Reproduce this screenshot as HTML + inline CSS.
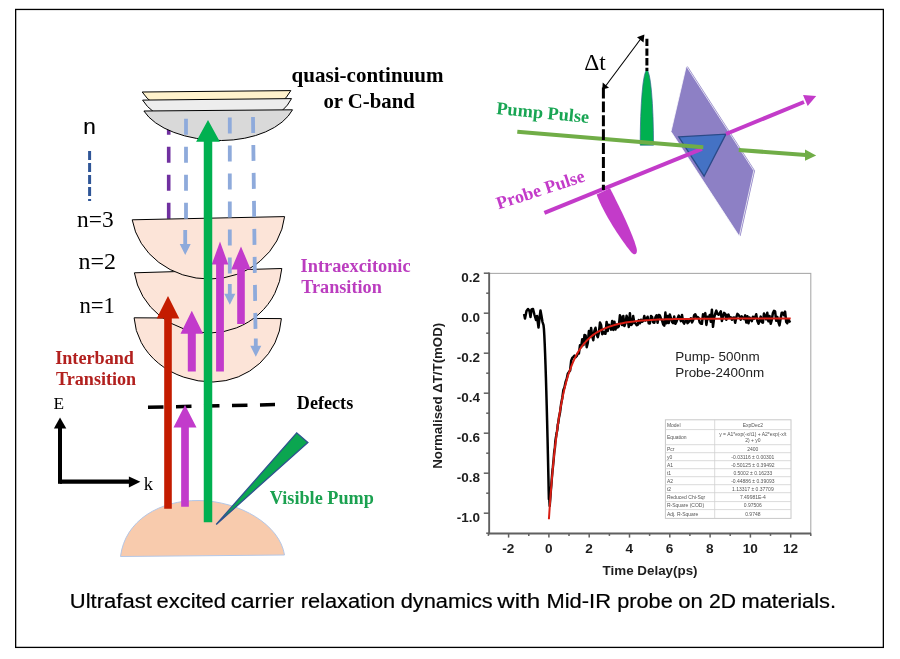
<!DOCTYPE html>
<html><head><meta charset="utf-8"><style>
html,body{margin:0;padding:0;background:#fff;width:900px;height:659px;overflow:hidden}
svg{display:block;will-change:transform}
</style></head><body>
<svg width="900" height="659" viewBox="0 0 900 659">
<rect width="900" height="659" fill="#fff"/>
<rect x="15.65" y="9.45" width="867.7" height="637.95" fill="none" stroke="#000" stroke-width="1.3"/>
<path d="M142.2,92 L290.8,90.6 A75,43.6 0 0 1 220.5,121.7 A82,43.6 0 0 1 142.2,92 Z" fill="#FFF2CC" stroke="#000" stroke-width="1"/>
<path d="M142.6,100.1 L291.5,98.6 A75,43.6 0 0 1 221,130.5 A82,43.6 0 0 1 142.6,100.1 Z" fill="#EDEDED" stroke="#000" stroke-width="1"/>
<line x1="89.6" y1="151" x2="89.6" y2="201" stroke="#2F5597" stroke-width="3" stroke-dasharray="9 3"/>
<line x1="168.7" y1="118.7" x2="168.7" y2="219" stroke="#7030A0" stroke-width="3.6" stroke-dasharray="16 12"/>
<path d="M143.9,111 L292.5,109.8 A75,43.6 0 0 1 221.5,140.5 A82,43.6 0 0 1 143.9,111 Z" fill="#D9D9D9" stroke="#000" stroke-width="1"/>
<path d="M134.1,317.8 L281.4,318.6 A70,68 0 0 1 213,382 A79,68 0 0 1 134.1,317.8 Z" fill="#FCE4D8" stroke="#000" stroke-width="1"/>
<path d="M134.4,272.8 L281.8,268.5 A73,70 0 0 1 210,333 A76,70 0 0 1 134.4,272.8 Z" fill="#FCE4D8" stroke="#000" stroke-width="1"/>
<path d="M132.2,219.8 L284.6,216.6 A75,70 0 0 1 210,279 A78,70 0 0 1 132.2,219.8 Z" fill="#FCE4D8" stroke="#000" stroke-width="1"/>
<line x1="186" y1="118.7" x2="186" y2="226" stroke="#8EAADB" stroke-width="3.8" stroke-dasharray="16 12"/>
<line x1="229.8" y1="117.6" x2="229.8" y2="281" stroke="#8EAADB" stroke-width="3.8" stroke-dasharray="16 12"/>
<line x1="253" y1="116.9" x2="255.5" y2="332" stroke="#8EAADB" stroke-width="3.8" stroke-dasharray="16 12"/>
<path d="M183.29999999999998,230 L183.29999999999998,243.9 L179.7,243.9 L185.2,254.9 L190.7,243.9 L187.1,243.9 L187.1,230 Z" fill="#8EAADB"/>
<path d="M227.9,284 L227.9,293.7 L224.3,293.7 L229.8,304.7 L235.3,293.7 L231.70000000000002,293.7 L231.70000000000002,284 Z" fill="#8EAADB"/>
<path d="M253.9,338.6 L253.9,345.8 L250.3,345.8 L255.8,356.8 L261.3,345.8 L257.7,345.8 L257.7,338.6 Z" fill="#8EAADB"/>
<path d="M120.5,556.5 C125,520 160,500 199,500.5 C240,501 280,525 284.5,555 Z" fill="#F8CBAD" stroke="#B4C7E7" stroke-width="1"/>
<line x1="148" y1="407.2" x2="275" y2="404.6" stroke="#000" stroke-width="3.5" stroke-dasharray="15.5 12.5"/>
<path d="M164.2,508.7 L164.2,318.4 L156.7,318.4 L168,296 L179.3,318.4 L171.8,318.4 L171.8,508.7 Z" fill="#C41C00"/>
<path d="M187.8,371.6 L187.8,333.8 L180.5,333.8 L191.8,310.7 L203.10000000000002,333.8 L195.8,333.8 L195.8,371.6 Z" fill="#C23BCB"/>
<path d="M216.1,371.6 L216.1,264.6 L211.7,264.6 L220,241.6 L228.3,264.6 L223.9,264.6 L223.9,371.6 Z" fill="#C23BCB"/>
<path d="M237.2,324.1 L237.2,269.5 L231.3,269.5 L241,246.4 L250.7,269.5 L244.8,269.5 L244.8,324.1 Z" fill="#C23BCB"/>
<path d="M181.15,506.8 L181.15,427.6 L173.5,427.6 L185,405 L196.5,427.6 L188.85,427.6 L188.85,506.8 Z" fill="#C23BCB"/>
<path d="M203.75,522.2 L203.75,141.7 L196.1,141.7 L208,120 L219.9,141.7 L212.25,141.7 L212.25,522.2 Z" fill="#00B050"/>
<path d="M216.2,524.5 L296.7,432.8 L307.9,442.6 Z" fill="#0BA650" stroke="#2F528F" stroke-width="1.3" stroke-linejoin="miter"/>
<path d="M60,481.7 L130,481.7" stroke="#000" stroke-width="4.2"/>
<path d="M60,483.8 L60,427" stroke="#000" stroke-width="4"/>
<path d="M53.9,428.4 L60,417.4 L66.3,428.4 Z" fill="#000"/>
<path d="M128.9,476.4 L140.4,481.7 L128.9,487.5 Z" fill="#000"/>
<text x="291.6" y="81.6" style='font-family:"Liberation Serif",serif;font-weight:bold;font-size:21px;fill:#000' textLength="152" lengthAdjust="spacingAndGlyphs" >quasi-continuum</text>
<text x="323.4" y="108" style='font-family:"Liberation Serif",serif;font-weight:bold;font-size:21px;fill:#000' textLength="91.4" lengthAdjust="spacingAndGlyphs" >or C-band</text>
<text x="83.2" y="134" style='font-family:"Liberation Sans",sans-serif;font-size:22.5px;fill:#000' stroke="#000" stroke-width="0.2">n</text>
<text x="77" y="227" style='font-family:"Liberation Serif",serif;font-size:24px;fill:#000' textLength="36.6" lengthAdjust="spacingAndGlyphs" >n=3</text>
<text x="78.6" y="269" style='font-family:"Liberation Serif",serif;font-size:24px;fill:#000' textLength="37.4" lengthAdjust="spacingAndGlyphs" >n=2</text>
<text x="79.4" y="313" style='font-family:"Liberation Serif",serif;font-size:24px;fill:#000' textLength="35.6" lengthAdjust="spacingAndGlyphs" >n=1</text>
<text x="300.6" y="271.8" style='font-family:"Liberation Serif",serif;font-weight:bold;font-size:18px;fill:#BB3DBF' textLength="110" lengthAdjust="spacingAndGlyphs" >Intraexcitonic</text>
<text x="301.2" y="293.4" style='font-family:"Liberation Serif",serif;font-weight:bold;font-size:18px;fill:#BB3DBF' textLength="80.6" lengthAdjust="spacingAndGlyphs" >Transition</text>
<text x="55.2" y="363.6" style='font-family:"Liberation Serif",serif;font-weight:bold;font-size:18px;fill:#B2201E' textLength="78.8" lengthAdjust="spacingAndGlyphs" >Interband</text>
<text x="56" y="385.3" style='font-family:"Liberation Serif",serif;font-weight:bold;font-size:18px;fill:#B2201E' textLength="80.2" lengthAdjust="spacingAndGlyphs" >Transition</text>
<text x="296.8" y="408.7" style='font-family:"Liberation Serif",serif;font-weight:bold;font-size:18px;fill:#000' textLength="56.4" lengthAdjust="spacingAndGlyphs" >Defects</text>
<text x="269.8" y="504.3" style='font-family:"Liberation Serif",serif;font-weight:bold;font-size:18px;fill:#1BA150' textLength="104" lengthAdjust="spacingAndGlyphs" >Visible Pump</text>
<text x="53.6" y="408.8" style='font-family:"Liberation Serif",serif;font-size:17.5px;fill:#000' textLength="10.6" lengthAdjust="spacingAndGlyphs" >E</text>
<text x="143.8" y="489.8" style='font-family:"Liberation Serif",serif;font-size:18px;fill:#000' textLength="9.2" lengthAdjust="spacingAndGlyphs" >k</text>
<text x="69.8" y="608.4" style='font-family:"Liberation Sans",sans-serif;font-size:19.5px;fill:#000' textLength="82.0" lengthAdjust="spacingAndGlyphs" stroke="#000" stroke-width="0.2">Ultrafast</text>
<text x="156.5" y="608.4" style='font-family:"Liberation Sans",sans-serif;font-size:19.5px;fill:#000' textLength="69.5" lengthAdjust="spacingAndGlyphs" stroke="#000" stroke-width="0.2">excited</text>
<text x="230.7" y="608.4" style='font-family:"Liberation Sans",sans-serif;font-size:19.5px;fill:#000' textLength="63.6" lengthAdjust="spacingAndGlyphs" stroke="#000" stroke-width="0.2">carrier</text>
<text x="300.7" y="608.4" style='font-family:"Liberation Sans",sans-serif;font-size:19.5px;fill:#000' textLength="94.5" lengthAdjust="spacingAndGlyphs" stroke="#000" stroke-width="0.2">relaxation</text>
<text x="400.7" y="608.4" style='font-family:"Liberation Sans",sans-serif;font-size:19.5px;fill:#000' textLength="92.0" lengthAdjust="spacingAndGlyphs" stroke="#000" stroke-width="0.2">dynamics</text>
<text x="497.3" y="608.4" style='font-family:"Liberation Sans",sans-serif;font-size:19.5px;fill:#000' textLength="42.9" lengthAdjust="spacingAndGlyphs" stroke="#000" stroke-width="0.2">with</text>
<text x="546.5" y="608.4" style='font-family:"Liberation Sans",sans-serif;font-size:19.5px;fill:#000' textLength="64.5" lengthAdjust="spacingAndGlyphs" stroke="#000" stroke-width="0.2">Mid-IR</text>
<text x="617.3" y="608.4" style='font-family:"Liberation Sans",sans-serif;font-size:19.5px;fill:#000' textLength="55.4" lengthAdjust="spacingAndGlyphs" stroke="#000" stroke-width="0.2">probe</text>
<text x="678.2" y="608.4" style='font-family:"Liberation Sans",sans-serif;font-size:19.5px;fill:#000' textLength="24.5" lengthAdjust="spacingAndGlyphs" stroke="#000" stroke-width="0.2">on</text>
<text x="709.0" y="608.4" style='font-family:"Liberation Sans",sans-serif;font-size:19.5px;fill:#000' textLength="27.0" lengthAdjust="spacingAndGlyphs" stroke="#000" stroke-width="0.2">2D</text>
<text x="741.5" y="608.4" style='font-family:"Liberation Sans",sans-serif;font-size:19.5px;fill:#000' textLength="94.5" lengthAdjust="spacingAndGlyphs" stroke="#000" stroke-width="0.2">materials.</text>
<path d="M687.5,66 L755,170.7 L740.5,236.2 L672.5,131.6 Z" fill="#8D80C5"/>
<path d="M686.3,66 L753.8,170.7 L739.3,236.2 L671,131.6 Z" fill="#8D80C5" stroke="#fff" stroke-width="0.75"/>
<path d="M678.7,136.9 L725.9,134.1 L704.1,176.2 Z" fill="#4472C4" stroke="#2A4A88" stroke-width="1.3"/>
<path d="M640.2,145.2 A6.65,75 0 0 1 653.5,145.2 Z" fill="#00B050" stroke="#2F6A8F" stroke-width="0.7"/>
<path d="M596.6,194.4 L610,188.3 C620,208 632,232 636.5,248 C638,254 635,256.5 631,252 C620,238 604,214 596.6,194.4 Z" fill="#C33BC9"/>
<line x1="544.4" y1="212.9" x2="701.9" y2="148.9" stroke="#C33BC9" stroke-width="4"/>
<line x1="726" y1="134" x2="804" y2="102" stroke="#C33BC9" stroke-width="4"/>
<path d="M803,95 L816.2,96.1 L807.7,106 Z" fill="#C33BC9"/>
<line x1="517.3" y1="131.8" x2="703.3" y2="147.3" stroke="#70AD47" stroke-width="4"/>
<line x1="738.8" y1="150" x2="806" y2="155" stroke="#70AD47" stroke-width="4"/>
<path d="M805,149.4 L816.2,155.6 L805,160.7 Z" fill="#70AD47"/>
<line x1="646.9" y1="38.7" x2="646.9" y2="71" stroke="#000" stroke-width="3" stroke-dasharray="7.4 2.3"/>
<line x1="603.4" y1="87.5" x2="603.4" y2="190" stroke="#000" stroke-width="3" stroke-dasharray="10.9 3"/>
<line x1="604.5" y1="87.5" x2="642.5" y2="36.5" stroke="#000" stroke-width="1.1"/>
<path d="M602.3,89.4 L602.7,82.6 L609,87.8 Z" fill="#000"/>
<path d="M644.4,34.5 L637,37.2 L643.5,42.5 Z" fill="#000"/>
<text x="584.3" y="69.7" style='font-family:"Liberation Serif",serif;font-size:24px;fill:#000' textLength="21.6" lengthAdjust="spacingAndGlyphs" >&#916;t</text>
<text x="496" y="114" style='font-family:"Liberation Serif",serif;font-weight:bold;font-size:18px;fill:#18A553' textLength="93" lengthAdjust="spacingAndGlyphs" transform="rotate(5.5 496 114)">Pump Pulse</text>
<text x="498.5" y="209.5" style='font-family:"Liberation Serif",serif;font-weight:bold;font-size:18px;fill:#C33BC9' textLength="92" lengthAdjust="spacingAndGlyphs" transform="rotate(-18 498.5 209.5)">Probe Pulse</text>
<rect x="489" y="273.4" width="321.8" height="260.1" fill="#fff" stroke="#ABABAB" stroke-width="1.1"/>
<line x1="489.2" y1="272.5" x2="489.2" y2="534.2" stroke="#606060" stroke-width="1.8"/>
<line x1="488.3" y1="533.5" x2="811" y2="533.5" stroke="#606060" stroke-width="1.8"/>
<line x1="486.2" y1="533.2" x2="489" y2="533.2" stroke="#606060" stroke-width="1.5"/>
<line x1="483.8" y1="513.2" x2="489" y2="513.2" stroke="#606060" stroke-width="1.5"/>
<text x="480.1" y="522.2" style='font-family:"Liberation Sans",sans-serif;font-weight:bold;font-size:13.5px;fill:#1E1E1E' text-anchor="end">-1.0</text>
<line x1="486.2" y1="493.2" x2="489" y2="493.2" stroke="#606060" stroke-width="1.5"/>
<line x1="483.8" y1="473.2" x2="489" y2="473.2" stroke="#606060" stroke-width="1.5"/>
<text x="480.1" y="482.2" style='font-family:"Liberation Sans",sans-serif;font-weight:bold;font-size:13.5px;fill:#1E1E1E' text-anchor="end">-0.8</text>
<line x1="486.2" y1="453.2" x2="489" y2="453.2" stroke="#606060" stroke-width="1.5"/>
<line x1="483.8" y1="433.2" x2="489" y2="433.2" stroke="#606060" stroke-width="1.5"/>
<text x="480.1" y="442.2" style='font-family:"Liberation Sans",sans-serif;font-weight:bold;font-size:13.5px;fill:#1E1E1E' text-anchor="end">-0.6</text>
<line x1="486.2" y1="413.2" x2="489" y2="413.2" stroke="#606060" stroke-width="1.5"/>
<line x1="483.8" y1="393.2" x2="489" y2="393.2" stroke="#606060" stroke-width="1.5"/>
<text x="480.1" y="402.2" style='font-family:"Liberation Sans",sans-serif;font-weight:bold;font-size:13.5px;fill:#1E1E1E' text-anchor="end">-0.4</text>
<line x1="486.2" y1="373.2" x2="489" y2="373.2" stroke="#606060" stroke-width="1.5"/>
<line x1="483.8" y1="353.2" x2="489" y2="353.2" stroke="#606060" stroke-width="1.5"/>
<text x="480.1" y="362.2" style='font-family:"Liberation Sans",sans-serif;font-weight:bold;font-size:13.5px;fill:#1E1E1E' text-anchor="end">-0.2</text>
<line x1="486.2" y1="333.2" x2="489" y2="333.2" stroke="#606060" stroke-width="1.5"/>
<line x1="483.8" y1="313.2" x2="489" y2="313.2" stroke="#606060" stroke-width="1.5"/>
<text x="480.1" y="322.2" style='font-family:"Liberation Sans",sans-serif;font-weight:bold;font-size:13.5px;fill:#1E1E1E' text-anchor="end">0.0</text>
<line x1="486.2" y1="293.2" x2="489" y2="293.2" stroke="#606060" stroke-width="1.5"/>
<line x1="483.8" y1="273.2" x2="489" y2="273.2" stroke="#606060" stroke-width="1.5"/>
<text x="480.1" y="282.2" style='font-family:"Liberation Sans",sans-serif;font-weight:bold;font-size:13.5px;fill:#1E1E1E' text-anchor="end">0.2</text>
<line x1="488.4" y1="533.5" x2="488.4" y2="535.9" stroke="#606060" stroke-width="1.5"/>
<line x1="508.6" y1="533.5" x2="508.6" y2="537.6" stroke="#606060" stroke-width="1.5"/>
<text x="508.4" y="552.9" style='font-family:"Liberation Sans",sans-serif;font-weight:bold;font-size:13.6px;fill:#1E1E1E' text-anchor="middle">-2</text>
<line x1="528.8" y1="533.5" x2="528.8" y2="535.9" stroke="#606060" stroke-width="1.5"/>
<line x1="548.9" y1="533.5" x2="548.9" y2="537.6" stroke="#606060" stroke-width="1.5"/>
<text x="548.6999999999999" y="552.9" style='font-family:"Liberation Sans",sans-serif;font-weight:bold;font-size:13.6px;fill:#1E1E1E' text-anchor="middle">0</text>
<line x1="569.0" y1="533.5" x2="569.0" y2="535.9" stroke="#606060" stroke-width="1.5"/>
<line x1="589.2" y1="533.5" x2="589.2" y2="537.6" stroke="#606060" stroke-width="1.5"/>
<text x="588.9999999999999" y="552.9" style='font-family:"Liberation Sans",sans-serif;font-weight:bold;font-size:13.6px;fill:#1E1E1E' text-anchor="middle">2</text>
<line x1="609.4" y1="533.5" x2="609.4" y2="535.9" stroke="#606060" stroke-width="1.5"/>
<line x1="629.5" y1="533.5" x2="629.5" y2="537.6" stroke="#606060" stroke-width="1.5"/>
<text x="629.3" y="552.9" style='font-family:"Liberation Sans",sans-serif;font-weight:bold;font-size:13.6px;fill:#1E1E1E' text-anchor="middle">4</text>
<line x1="649.6" y1="533.5" x2="649.6" y2="535.9" stroke="#606060" stroke-width="1.5"/>
<line x1="669.8" y1="533.5" x2="669.8" y2="537.6" stroke="#606060" stroke-width="1.5"/>
<text x="669.5999999999999" y="552.9" style='font-family:"Liberation Sans",sans-serif;font-weight:bold;font-size:13.6px;fill:#1E1E1E' text-anchor="middle">6</text>
<line x1="689.9" y1="533.5" x2="689.9" y2="535.9" stroke="#606060" stroke-width="1.5"/>
<line x1="710.1" y1="533.5" x2="710.1" y2="537.6" stroke="#606060" stroke-width="1.5"/>
<text x="709.8999999999999" y="552.9" style='font-family:"Liberation Sans",sans-serif;font-weight:bold;font-size:13.6px;fill:#1E1E1E' text-anchor="middle">8</text>
<line x1="730.2" y1="533.5" x2="730.2" y2="535.9" stroke="#606060" stroke-width="1.5"/>
<line x1="750.4" y1="533.5" x2="750.4" y2="537.6" stroke="#606060" stroke-width="1.5"/>
<text x="750.1999999999999" y="552.9" style='font-family:"Liberation Sans",sans-serif;font-weight:bold;font-size:13.6px;fill:#1E1E1E' text-anchor="middle">10</text>
<line x1="770.5" y1="533.5" x2="770.5" y2="535.9" stroke="#606060" stroke-width="1.5"/>
<line x1="790.7" y1="533.5" x2="790.7" y2="537.6" stroke="#606060" stroke-width="1.5"/>
<text x="790.4999999999999" y="552.9" style='font-family:"Liberation Sans",sans-serif;font-weight:bold;font-size:13.6px;fill:#1E1E1E' text-anchor="middle">12</text>
<line x1="810.8" y1="533.5" x2="810.8" y2="535.9" stroke="#606060" stroke-width="1.5"/>
<text x="602.6" y="575.3" style='font-family:"Liberation Sans",sans-serif;font-weight:bold;font-size:13px;fill:#1E1E1E' textLength="95" lengthAdjust="spacingAndGlyphs" >Time Delay(ps)</text>
<text transform="translate(442.4,468.8) rotate(-90)" style='font-family:"Liberation Sans",sans-serif;font-weight:bold;font-size:13.5px;fill:#1E1E1E' textLength="146" lengthAdjust="spacingAndGlyphs">Normalised &#916;T/T(mOD)</text>
<text x="675.2" y="360.7" style='font-family:"Liberation Sans",sans-serif;font-size:13px;fill:#222' textLength="84.5" lengthAdjust="spacingAndGlyphs" >Pump- 500nm</text>
<text x="675.2" y="377.3" style='font-family:"Liberation Sans",sans-serif;font-size:13px;fill:#222' textLength="89" lengthAdjust="spacingAndGlyphs" >Probe-2400nm</text>
<path d="M524.1,314.0 L525.0,318.5 L526.5,311.0 L528.0,309.0 L529.5,311.0 L530.5,317.0 L531.5,309.5 L533.0,309.0 L534.5,315.0 L536.0,320.0 L537.0,316.0 L538.5,327.5 L539.5,318.0 L540.5,310.5 L541.5,316.0 L542.5,322.0 L543.5,325.2 L543.9,328.7 L544.3,335.2 L544.7,343.6 L545.1,353.5 L545.5,364.7 L545.9,377.1 L546.3,390.7 L546.7,405.2 L547.1,420.6 L547.5,437.0 L547.9,454.1 L548.3,472.1 L548.7,490.9 L548.9,499.2 L549.3,499.2 L549.7,506.0 L550.1,500.5 L550.5,495.1 L550.9,489.8 L551.3,485.2 L551.7,480.0 L552.1,475.1 L552.5,470.3 L552.9,467.2 L553.3,462.6 L553.7,459.1 L554.1,453.4 L554.5,449.9 L554.9,448.1 L555.3,441.7 L555.8,438.3 L556.2,435.9 L556.6,432.9 L557.0,431.5 L557.4,429.2 L557.8,424.2 L558.2,423.4 L558.6,420.2 L559.0,417.4 L560.1,411.9 L561.2,403.4 L562.3,397.9 L563.4,389.9 L564.5,387.3 L565.6,381.9 L566.7,378.9 L567.8,373.7 L568.9,372.1 L570.1,370.5 L571.2,360.6 L572.3,357.9 L573.4,356.8 L574.5,355.6 L575.6,357.2 L576.7,355.9 L577.8,353.4 L578.9,353.6 L580.0,345.2 L581.1,347.1 L582.2,339.3 L583.4,345.0 L584.5,334.9 L585.6,335.3 L586.7,347.2 L587.8,342.8 L588.9,331.0 L590.0,336.8 L591.1,328.0 L592.2,336.1 L593.3,340.2 L594.4,330.9 L595.5,327.8 L596.7,335.0 L597.8,337.1 L598.9,332.7 L600.0,322.4 L601.1,325.0 L602.2,334.2 L603.3,331.7 L604.4,333.5 L605.5,333.7 L606.6,321.9 L607.7,331.0 L608.8,324.7 L610.0,326.0 L611.1,329.6 L612.2,321.0 L613.3,329.9 L614.4,321.7 L615.5,329.5 L616.6,324.5 L617.7,327.4 L618.8,326.3 L619.9,315.3 L621.0,317.6 L622.1,325.1 L623.3,315.9 L624.4,326.1 L625.5,323.1 L626.6,315.8 L627.7,318.9 L628.8,327.0 L629.9,313.2 L631.0,325.0 L632.1,324.2 L633.2,316.1 L634.3,322.8 L635.4,323.2 L636.6,325.2 L637.7,324.9 L638.8,320.1 L639.9,323.3 L641.0,319.7 L642.1,321.8 L643.2,321.0 L644.3,316.0 L645.4,320.5 L646.5,319.5 L647.6,316.7 L648.7,323.2 L649.9,323.4 L651.0,316.1 L652.1,316.9 L653.2,322.3 L654.3,322.8 L655.4,317.4 L656.5,315.4 L657.6,322.7 L658.7,315.0 L659.8,315.5 L660.9,318.3 L662.0,320.4 L663.2,324.5 L664.3,325.7 L665.4,312.6 L666.5,323.3 L667.6,316.1 L668.7,323.0 L669.8,314.4 L670.9,317.8 L672.0,321.9 L673.1,323.1 L674.2,316.6 L675.3,323.8 L676.4,321.9 L677.6,318.5 L678.7,315.6 L679.8,317.9 L680.9,321.1 L682.0,315.0 L683.1,321.8 L684.2,323.6 L685.3,321.1 L686.4,319.4 L687.5,323.1 L688.6,322.0 L689.7,320.1 L690.9,318.2 L692.0,322.4 L693.1,320.2 L694.2,315.1 L695.3,314.2 L696.4,317.3 L697.5,316.9 L698.6,318.0 L699.7,322.4 L700.8,323.5 L701.9,323.8 L703.0,314.3 L704.2,316.4 L705.3,313.1 L706.4,324.9 L707.5,316.8 L708.6,319.0 L709.7,315.0 L710.8,321.8 L711.9,309.7 L713.0,326.8 L714.1,317.8 L715.2,313.9 L716.3,310.6 L717.5,314.0 L718.6,314.7 L719.7,313.2 L720.8,311.3 L721.9,321.1 L723.0,315.8 L724.1,312.9 L725.2,313.7 L726.3,319.7 L727.4,315.2 L728.5,314.6 L729.6,317.9 L730.8,317.3 L731.9,319.8 L733.0,317.8 L734.1,317.6 L735.2,322.7 L736.3,317.3 L737.4,313.9 L738.5,315.0 L739.6,316.4 L740.7,319.7 L741.8,316.4 L742.9,317.9 L744.1,319.2 L745.2,315.4 L746.3,322.6 L747.4,316.2 L748.5,323.2 L749.6,317.6 L750.7,318.8 L751.8,321.2 L752.9,316.7 L754.0,318.6 L755.1,317.5 L756.2,314.3 L757.4,321.1 L758.5,323.8 L759.6,320.8 L760.7,316.6 L761.8,322.1 L762.9,322.7 L764.0,313.4 L765.1,316.5 L766.2,319.4 L767.3,312.8 L768.4,321.3 L769.5,315.9 L770.7,323.8 L771.8,319.8 L772.9,313.0 L774.0,310.8 L775.1,311.4 L776.2,320.8 L777.3,317.0 L778.4,322.1 L779.5,325.4 L780.6,318.7 L781.7,312.7 L782.8,312.7 L783.9,315.2 L785.1,311.6 L786.2,321.9 L787.3,323.2 L788.4,319.3 L789.5,321.5 L790.6,322.1" fill="none" stroke="#000" stroke-width="2.5" stroke-linejoin="round"/>
<path d="M548.9,519.2 L549.3,513.2 L549.7,507.3 L550.1,501.7 L550.5,496.3 L550.9,491.1 L551.3,486.1 L551.7,481.2 L552.1,476.5 L552.5,472.0 L552.9,467.6 L553.3,463.4 L553.7,459.4 L554.1,455.4 L554.5,451.6 L554.9,448.0 L555.3,444.4 L555.8,441.0 L556.2,437.7 L556.6,434.5 L557.0,431.4 L557.4,428.4 L557.8,425.5 L558.2,422.7 L558.6,420.0 L559.0,417.4 L559.4,414.8 L559.8,412.4 L560.2,410.0 L560.6,407.7 L561.0,405.5 L561.4,403.3 L561.8,401.2 L562.2,399.2 L562.6,397.2 L563.0,395.3 L563.4,393.4 L563.8,391.6 L564.2,389.9 L564.6,388.2 L565.0,386.6 L565.4,385.0 L565.8,383.4 L566.2,381.9 L566.6,380.5 L567.0,379.1 L567.4,377.7 L567.8,376.3 L568.2,375.0 L568.6,373.8 L569.0,372.5 L569.5,371.3 L569.9,370.2 L570.3,369.1 L570.7,368.0 L571.1,366.9 L571.5,365.8 L571.9,364.8 L572.3,363.8 L572.7,362.9 L573.1,361.9 L573.5,361.0 L573.9,360.1 L574.3,359.3 L574.7,358.4 L575.1,357.6 L575.5,356.8 L575.9,356.0 L576.3,355.2 L576.7,354.5 L577.1,353.8 L577.5,353.1 L577.9,352.4 L578.3,351.7 L578.7,351.0 L579.1,350.4 L579.5,349.8 L579.9,349.1 L580.3,348.5 L580.7,348.0 L581.1,347.4 L581.5,346.8 L581.9,346.3 L582.3,345.7 L582.8,345.2 L583.2,344.7 L583.6,344.2 L584.0,343.7 L584.4,343.2 L584.8,342.8 L585.2,342.3 L585.6,341.9 L586.0,341.4 L586.4,341.0 L586.8,340.6 L587.2,340.2 L587.6,339.8 L588.0,339.4 L588.4,339.0 L588.8,338.6 L589.2,338.2 L591.2,336.5 L593.2,334.9 L595.2,333.5 L597.3,332.2 L599.3,331.1 L601.3,330.0 L603.3,329.1 L605.3,328.2 L607.3,327.4 L609.4,326.6 L611.4,326.0 L613.4,325.4 L615.4,324.8 L617.4,324.3 L619.4,323.8 L621.4,323.4 L623.5,323.0 L625.5,322.6 L627.5,322.3 L629.5,322.0 L631.5,321.7 L633.5,321.5 L635.5,321.2 L637.6,321.0 L639.6,320.8 L641.6,320.6 L643.6,320.5 L645.6,320.3 L647.6,320.2 L649.6,320.1 L651.7,319.9 L653.7,319.8 L655.7,319.7 L657.7,319.6 L659.7,319.6 L661.7,319.5 L663.8,319.4 L665.8,319.3 L667.8,319.3 L669.8,319.2 L671.8,319.2 L673.8,319.1 L675.8,319.1 L677.9,319.0 L679.9,319.0 L681.9,319.0 L683.9,318.9 L685.9,318.9 L687.9,318.9 L689.9,318.9 L692.0,318.8 L694.0,318.8 L696.0,318.8 L698.0,318.8 L700.0,318.8 L702.0,318.8 L704.1,318.7 L706.1,318.7 L708.1,318.7 L710.1,318.7 L712.1,318.7 L714.1,318.7 L716.1,318.7 L718.2,318.7 L720.2,318.7 L722.2,318.7 L724.2,318.7 L726.2,318.7 L728.2,318.7 L730.2,318.6 L732.3,318.6 L734.3,318.6 L736.3,318.6 L738.3,318.6 L740.3,318.6 L742.3,318.6 L744.4,318.6 L746.4,318.6 L748.4,318.6 L750.4,318.6 L752.4,318.6 L754.4,318.6 L756.4,318.6 L758.5,318.6 L760.5,318.6 L762.5,318.6 L764.5,318.6 L766.5,318.6 L768.5,318.6 L770.5,318.6 L772.6,318.6 L774.6,318.6 L776.6,318.6 L778.6,318.6 L780.6,318.6 L782.6,318.6 L784.7,318.6 L786.7,318.6 L788.7,318.6 L790.7,318.6" fill="none" stroke="#D81E14" stroke-width="2"/>
<rect x="665.4" y="419.8" width="125.60000000000002" height="98.59999999999997" fill="#fff" stroke="#C8C8C8" stroke-width="1"/>
<line x1="714.7" y1="419.8" x2="714.7" y2="518.4" stroke="#D0D0D0" stroke-width="0.8"/>
<text x="666.9" y="426.5" style='font-family:"Liberation Sans",sans-serif;font-size:5px;fill:#555'>Model</text>
<text x="752.85" y="426.5" style='font-family:"Liberation Sans",sans-serif;font-size:5px;fill:#555' text-anchor="middle">ExpDec2</text>
<line x1="665.4" y1="429.6" x2="791" y2="429.6" stroke="#D0D0D0" stroke-width="0.8"/>
<text x="666.9" y="439.0" style='font-family:"Liberation Sans",sans-serif;font-size:5px;fill:#555'>Equation</text>
<text x="752.85" y="435.6" style='font-family:"Liberation Sans",sans-serif;font-size:5px;fill:#555' text-anchor="middle">y = A1*exp(-x/t1) + A2*exp(-x/t</text>
<text x="752.85" y="441.6" style='font-family:"Liberation Sans",sans-serif;font-size:5px;fill:#555' text-anchor="middle">2) + y0</text>
<line x1="665.4" y1="444.7" x2="791" y2="444.7" stroke="#D0D0D0" stroke-width="0.8"/>
<text x="666.9" y="450.5" style='font-family:"Liberation Sans",sans-serif;font-size:5px;fill:#555'>Pcr</text>
<text x="752.85" y="450.5" style='font-family:"Liberation Sans",sans-serif;font-size:5px;fill:#555' text-anchor="middle">2400</text>
<line x1="665.4" y1="452.7" x2="791" y2="452.7" stroke="#D0D0D0" stroke-width="0.8"/>
<text x="666.9" y="458.5" style='font-family:"Liberation Sans",sans-serif;font-size:5px;fill:#555'>y0</text>
<text x="752.85" y="458.5" style='font-family:"Liberation Sans",sans-serif;font-size:5px;fill:#555' text-anchor="middle">-0.03116 &#177; 0.00301</text>
<line x1="665.4" y1="460.7" x2="791" y2="460.7" stroke="#D0D0D0" stroke-width="0.8"/>
<text x="666.9" y="466.5" style='font-family:"Liberation Sans",sans-serif;font-size:5px;fill:#555'>A1</text>
<text x="752.85" y="466.5" style='font-family:"Liberation Sans",sans-serif;font-size:5px;fill:#555' text-anchor="middle">-0.50125 &#177; 0.39492</text>
<line x1="665.4" y1="468.7" x2="791" y2="468.7" stroke="#D0D0D0" stroke-width="0.8"/>
<text x="666.9" y="474.5" style='font-family:"Liberation Sans",sans-serif;font-size:5px;fill:#555'>t1</text>
<text x="752.85" y="474.5" style='font-family:"Liberation Sans",sans-serif;font-size:5px;fill:#555' text-anchor="middle">0.5002 &#177; 0.16233</text>
<line x1="665.4" y1="476.7" x2="791" y2="476.7" stroke="#D0D0D0" stroke-width="0.8"/>
<text x="666.9" y="482.5" style='font-family:"Liberation Sans",sans-serif;font-size:5px;fill:#555'>A2</text>
<text x="752.85" y="482.5" style='font-family:"Liberation Sans",sans-serif;font-size:5px;fill:#555' text-anchor="middle">-0.44886 &#177; 0.39093</text>
<line x1="665.4" y1="484.7" x2="791" y2="484.7" stroke="#D0D0D0" stroke-width="0.8"/>
<text x="666.9" y="490.5" style='font-family:"Liberation Sans",sans-serif;font-size:5px;fill:#555'>t2</text>
<text x="752.85" y="490.5" style='font-family:"Liberation Sans",sans-serif;font-size:5px;fill:#555' text-anchor="middle">1.13317 &#177; 0.37709</text>
<line x1="665.4" y1="492.7" x2="791" y2="492.7" stroke="#D0D0D0" stroke-width="0.8"/>
<text x="666.9" y="499.0" style='font-family:"Liberation Sans",sans-serif;font-size:5px;fill:#555'>Reduced Chi-Sqr</text>
<text x="752.85" y="499.0" style='font-family:"Liberation Sans",sans-serif;font-size:5px;fill:#555' text-anchor="middle">7.49981E-4</text>
<line x1="665.4" y1="501.6" x2="791" y2="501.6" stroke="#D0D0D0" stroke-width="0.8"/>
<text x="666.9" y="507.4" style='font-family:"Liberation Sans",sans-serif;font-size:5px;fill:#555'>R-Square (COD)</text>
<text x="752.85" y="507.4" style='font-family:"Liberation Sans",sans-serif;font-size:5px;fill:#555' text-anchor="middle">0.97506</text>
<line x1="665.4" y1="509.6" x2="791" y2="509.6" stroke="#D0D0D0" stroke-width="0.8"/>
<text x="666.9" y="515.8" style='font-family:"Liberation Sans",sans-serif;font-size:5px;fill:#555'>Adj. R-Square</text>
<text x="752.85" y="515.8" style='font-family:"Liberation Sans",sans-serif;font-size:5px;fill:#555' text-anchor="middle">0.9748</text>
</svg>
</body></html>
